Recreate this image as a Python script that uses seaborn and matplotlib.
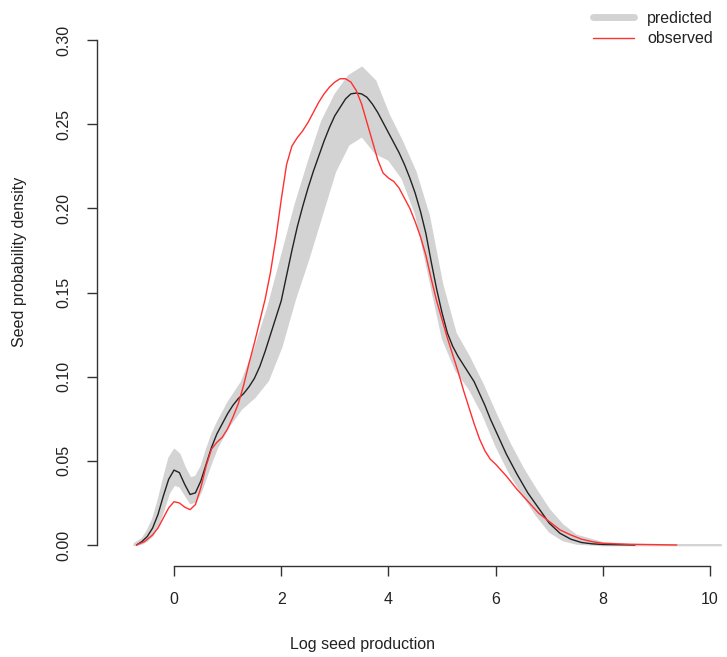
import numpy as np
import pandas as pd
import matplotlib
matplotlib.use("Agg")
import matplotlib.pyplot as plt
import seaborn as sns
from matplotlib.lines import Line2D

# ---- data ----
band_x = [-0.75, -0.6, -0.5, -0.4, -0.3, -0.2, -0.1, 0.0, 0.1, 0.2, 0.3, 0.4,
          0.5, 0.6, 0.7, 0.8, 0.9, 1.0, 1.25, 1.5, 1.75, 2.0, 2.25, 2.5, 2.75,
          3.0, 3.25, 3.5, 3.75, 4.0, 4.25, 4.5, 4.75, 5.0, 5.25, 5.5, 5.75,
          6.0, 6.25, 6.5, 6.75, 7.0, 7.25, 7.5, 8.0, 8.5, 9.0, 10.2]
band_upper = [0.001, 0.004, 0.009, 0.016, 0.027, 0.040, 0.052, 0.057, 0.054,
              0.046, 0.040, 0.041, 0.047, 0.057, 0.066, 0.073, 0.079, 0.085,
              0.097, 0.117, 0.142, 0.172, 0.202, 0.228, 0.252, 0.268, 0.279,
              0.284, 0.276, 0.256, 0.240, 0.222, 0.196, 0.155, 0.126, 0.112,
              0.096, 0.078, 0.061, 0.046, 0.033, 0.021, 0.012, 0.006, 0.0015,
              0.0006, 0.0004, 0.0003]
band_lower = [0.0, 0.001, 0.003, 0.006, 0.012, 0.021, 0.031, 0.036, 0.035,
              0.030, 0.025, 0.026, 0.032, 0.041, 0.050, 0.058, 0.064, 0.070,
              0.081, 0.088, 0.098, 0.118, 0.146, 0.170, 0.196, 0.222, 0.238,
              0.243, 0.233, 0.229, 0.218, 0.197, 0.160, 0.123, 0.104, 0.093,
              0.078, 0.059, 0.043, 0.030, 0.018, 0.008, 0.003, 0.001, 0.0,
              0.0, 0.0, 0.0]

mean_x = [-0.70, -0.6, -0.5, -0.4, -0.3, -0.2, -0.1, 0.0, 0.1, 0.2, 0.3, 0.4,
          0.5, 0.6, 0.7, 0.8, 0.9, 1.0, 1.1, 1.2, 1.3, 1.4, 1.5, 1.6, 1.7, 1.8,
          1.9, 2.0, 2.1, 2.2, 2.3, 2.4, 2.5, 2.6, 2.7, 2.8, 2.9, 3.0, 3.1, 3.2,
          3.3, 3.4, 3.5, 3.6, 3.7, 3.8, 3.9, 4.0, 4.1, 4.2, 4.3, 4.4, 4.5, 4.6,
          4.7, 4.8, 4.9, 5.0, 5.1, 5.2, 5.3, 5.4, 5.5, 5.6, 5.7, 5.8, 5.9, 6.0,
          6.2, 6.4, 6.6, 6.8, 7.0, 7.2, 7.4, 7.6, 7.8, 8.0, 8.6]
mean_y = [0.0, 0.002, 0.005, 0.010, 0.018, 0.029, 0.039, 0.0445, 0.043, 0.036,
          0.030, 0.031, 0.038, 0.048, 0.058, 0.066, 0.072, 0.078, 0.083, 0.087,
          0.090, 0.094, 0.099, 0.106, 0.115, 0.125, 0.135, 0.145, 0.160, 0.175,
          0.189, 0.201, 0.212, 0.222, 0.231, 0.240, 0.248, 0.255, 0.260, 0.265,
          0.268, 0.2685, 0.268, 0.266, 0.262, 0.257, 0.251, 0.245, 0.239, 0.233,
          0.226, 0.218, 0.209, 0.198, 0.185, 0.168, 0.152, 0.138, 0.126, 0.118,
          0.112, 0.107, 0.102, 0.097, 0.090, 0.083, 0.075, 0.068, 0.054, 0.042,
          0.031, 0.022, 0.013, 0.007, 0.0035, 0.0015, 0.0007, 0.0003, 0.0]

obs_x = [-0.70, -0.55, -0.4, -0.3, -0.2, -0.1, 0.0, 0.1, 0.2, 0.3, 0.4, 0.5,
         0.6, 0.7, 0.8, 0.9, 1.0, 1.1, 1.2, 1.3, 1.4, 1.5, 1.6, 1.7, 1.8, 1.9,
         2.0, 2.1, 2.2, 2.3, 2.4, 2.5, 2.6, 2.7, 2.8, 2.9, 3.0, 3.1, 3.2, 3.3,
         3.4, 3.5, 3.6, 3.7, 3.8, 3.9, 4.0, 4.1, 4.2, 4.3, 4.4, 4.5, 4.6, 4.7,
         4.8, 4.9, 5.0, 5.1, 5.2, 5.3, 5.4, 5.5, 5.6, 5.7, 5.8, 5.9, 6.0, 6.2,
         6.4, 6.6, 6.8, 7.0, 7.2, 7.4, 7.6, 7.8, 8.0, 8.5, 9.0, 9.38]
obs_y = [0.0, 0.002, 0.006, 0.010, 0.016, 0.022, 0.0257, 0.025, 0.0225, 0.021,
         0.024, 0.034, 0.047, 0.057, 0.061, 0.064, 0.069, 0.076, 0.084, 0.095,
         0.108, 0.120, 0.133, 0.146, 0.162, 0.182, 0.205, 0.226, 0.237, 0.242,
         0.246, 0.251, 0.257, 0.263, 0.268, 0.272, 0.275, 0.277, 0.277, 0.275,
         0.270, 0.262, 0.251, 0.240, 0.229, 0.221, 0.218, 0.216, 0.212, 0.206,
         0.200, 0.192, 0.183, 0.172, 0.158, 0.145, 0.134, 0.123, 0.113, 0.103,
         0.092, 0.082, 0.072, 0.063, 0.056, 0.051, 0.048, 0.041, 0.033, 0.026,
         0.019, 0.014, 0.009, 0.006, 0.0035, 0.002, 0.001, 0.0004, 0.0002, 0.0]

x_ticks = [0, 2, 4, 6, 8, 10]
y_ticks = [0.00, 0.05, 0.10, 0.15, 0.20, 0.25, 0.30]
y_ticklabels = ["0.00", "0.05", "0.10", "0.15", "0.20", "0.25", "0.30"]

# ---- figure ----
sns.set_style("white")
plt.rcParams['font.family'] = ['Liberation Sans', 'DejaVu Sans']

W, H = 727, 657
fig = plt.figure(figsize=(W / 100, H / 100), dpi=100)
L, R, T, B = 97, 727, 0, 566
ax = fig.add_axes([L / W, (H - B) / H, (R - L) / W, (B - T) / H])
ax.patch.set_alpha(0)

GREY = "#D3D3D3"
ax.fill_between(band_x, band_lower, band_upper, color=GREY, lw=1.2,
                edgecolor=GREY, zorder=1)

mean_df = pd.DataFrame({"x": mean_x, "y": mean_y})
obs_df = pd.DataFrame({"x": obs_x, "y": obs_y})
sns.lineplot(data=mean_df, x="x", y="y", ax=ax, color="#222222", lw=1.0,
             sort=False, estimator=None, zorder=3, solid_joinstyle="round")
sns.lineplot(data=obs_df, x="x", y="y", ax=ax, color="#FF3030", lw=1.0,
             sort=False, estimator=None, zorder=4, solid_joinstyle="round")

# pixel mapping: x=0 -> 174px, x=10 -> 710px ; y=0 -> 545px, y=0.3 -> 40px
ax.set_xlim((L - 174) / 53.6, (R - 174) / 53.6)
ax.set_ylim((545 - B) / 1683.3, (545 - T) / 1683.3)

for s in ["top", "right"]:
    ax.spines[s].set_visible(False)
AXC = "#333333"
ax.spines["bottom"].set_bounds(0, 10)
ax.spines["left"].set_bounds(0, 0.30)
for s in ["bottom", "left"]:
    ax.spines[s].set_color(AXC)
    ax.spines[s].set_linewidth(1.0)

ax.set_xticks(x_ticks)
ax.set_xticklabels([str(t) for t in x_ticks])
ax.set_yticks(y_ticks)
ax.set_yticklabels(y_ticklabels, rotation=90, va="center")
ax.tick_params(axis="both", direction="out", length=7.5, width=1.0,
               color=AXC, labelsize=11.5, labelcolor="#222222", pad=11,
               bottom=True, left=True)

ax.set_xlabel("")
ax.set_ylabel("")
fig.text(362 / W, 1 - 645 / H, "Log seed production", ha="center",
         va="center", fontsize=11.5, color="#222222")
fig.text(20 / W, 1 - 262 / H, "Seed probability density", ha="center",
         va="center", rotation=90, fontsize=11.5, color="#222222")

handles = [Line2D([0], [0], color=GREY, lw=5, solid_capstyle="round"),
           Line2D([0], [0], color="#FF3030", lw=1.0)]
leg = fig.legend(handles, ["predicted", "observed"], loc="upper left",
                 bbox_to_anchor=(580 / W, 1 + 2 / H), frameon=False,
                 fontsize=11.5, handlelength=2.6, handletextpad=0.8,
                 labelspacing=0.35, borderpad=0.3)
for t in leg.get_texts():
    t.set_color("#222222")

fig.savefig("out.png", dpi=100)
